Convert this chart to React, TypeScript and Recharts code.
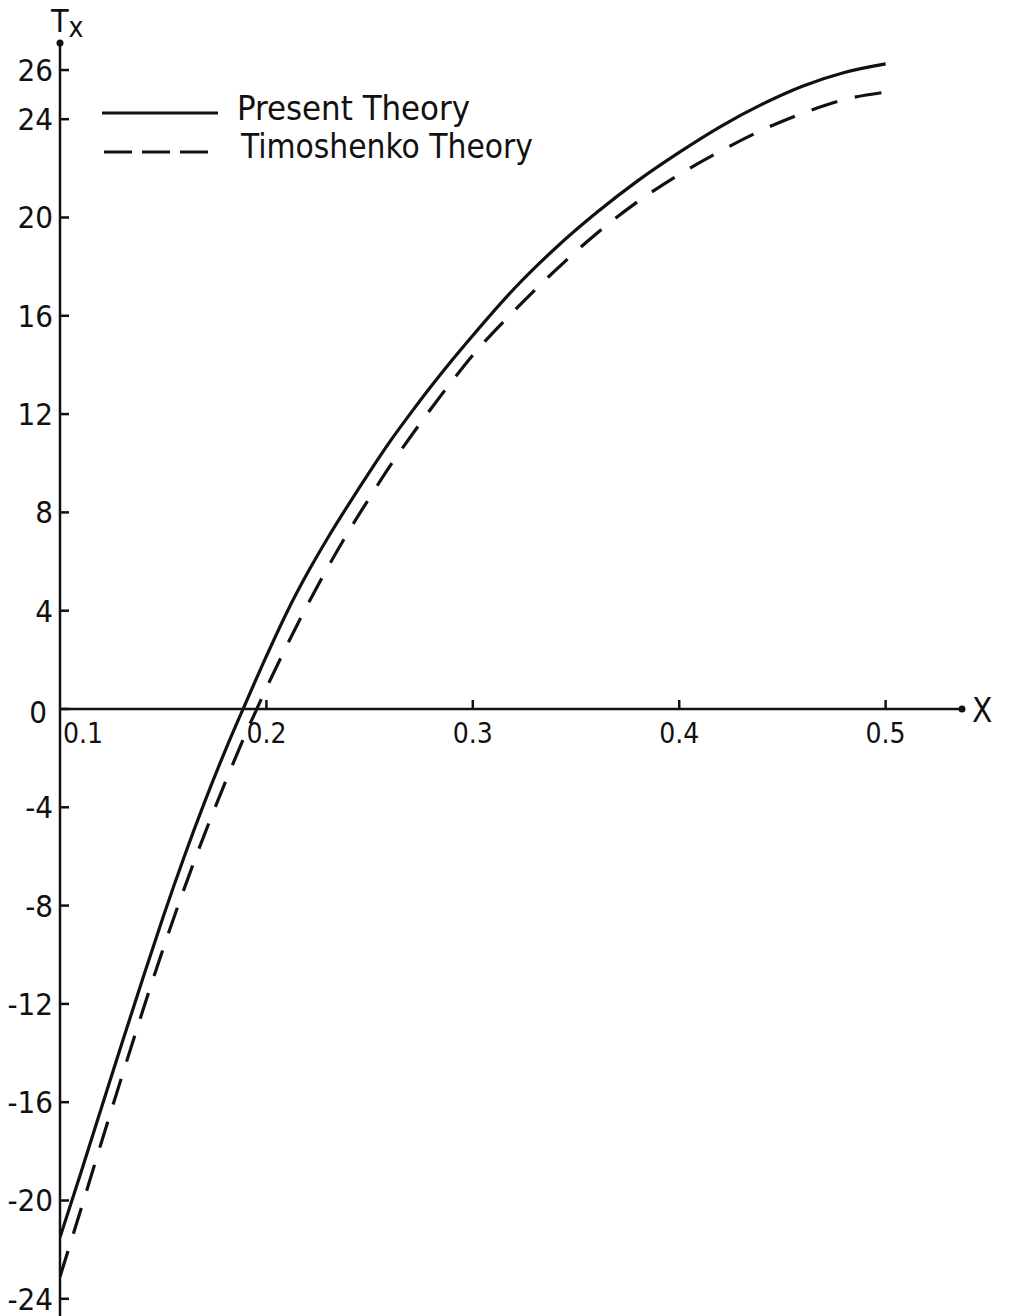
import { LineChart, Line, XAxis, YAxis, ReferenceLine, ReferenceDot, Legend } from 'recharts'

// x positions
const xValues = [
  0.1, 0.11, 0.12, 0.13, 0.14, 0.15, 0.16, 0.17, 0.18, 0.19, 0.2, 0.21, 0.22, 0.23, 0.24, 0.25, 0.26,
  0.27, 0.28, 0.29, 0.3, 0.32, 0.34, 0.36, 0.38, 0.4, 0.42, 0.44, 0.46, 0.48, 0.5,
]
const presentTheory = [
  -21.5, -18.9, -16.25, -13.6, -11.0, -8.45, -6.05, -3.8, -1.7, 0.25, 2.15, 3.95, 5.55, 7.0, 8.35, 9.65,
  10.9, 12.05, 13.15, 14.2, 15.2, 17.1, 18.75, 20.2, 21.5, 22.65, 23.7, 24.6, 25.35, 25.9, 26.25,
]
const timoshenkoTheory = [
  -23.1, -20.4, -17.65, -14.95, -12.3, -9.75, -7.35, -5.1, -3.0, -1.0, 0.85, 2.6, 4.25, 5.8, 7.25, 8.6,
  9.9, 11.1, 12.25, 13.35, 14.4, 16.2, 17.85, 19.35, 20.65, 21.75, 22.7, 23.55, 24.25, 24.8, 25.1,
]
const yTicks = [26, 24, 20, 16, 12, 8, 4, 0, -4, -8, -12, -16, -20, -24]
const xTicks = [0.1, 0.2, 0.3, 0.4, 0.5]

const rows = xValues.map((x, i) => ({
  x,
  present: presentTheory[i],
  timoshenko: timoshenkoTheory[i],
}))

const FONT = '"DejaVu Sans Condensed", "DejaVu Sans", sans-serif'
const INK = '#111'

function YTick(props: any) {
  const { x, y, payload } = props
  return (
    <g>
      <line x1={x} y1={y} x2={x + 9} y2={y} stroke={INK} strokeWidth={2.5} />
      <text
        x={payload.value === 0 ? x - 13 : x - 7}
        y={y + (payload.value === 0 ? 14 : 11)}
        textAnchor="end"
        fontSize={31}
        fontFamily={FONT}
        fontStretch="condensed"
        fill={INK}
      >
        {payload.value}
      </text>
    </g>
  )
}

function xTickShape(value: number) {
  return (p: any) => {
    const first = value === xTicks[0]
    return (
      <g>
        {!first && (
          <line x1={p.cx} y1={p.cy} x2={p.cx} y2={p.cy - 9} stroke={INK} strokeWidth={2.5} />
        )}
        <text
          x={first ? p.cx + 3 : p.cx}
          y={p.cy + 34}
          textAnchor={first ? 'start' : 'middle'}
          fontSize={28}
          fontFamily={FONT}
          fontStretch="condensed"
          fill={INK}
        >
          {value.toFixed(1)}
        </text>
      </g>
    )
  }
}

function arrowShape(kind: 'x' | 'y') {
  return (p: any) => (
    <g>
      <circle cx={p.cx} cy={p.cy} r={3.5} fill={INK} />
      {kind === 'y' ? (
        <text x={p.cx - 9} y={p.cy - 11} fontSize={32} fontFamily={FONT} fontStretch="condensed" fill={INK}>
          T
          <tspan fontSize={28} dy={5}>
            x
          </tspan>
        </text>
      ) : (
        <text x={p.cx + 10} y={p.cy + 13} fontSize={33} fontFamily={FONT} fontStretch="condensed" fill={INK}>
          X
        </text>
      )}
    </g>
  )
}

function LegendBox() {
  return (
    <svg width={470} height={90}>
      <line x1={7} y1={33} x2={123} y2={33} stroke={INK} strokeWidth={3} />
      <text x={142} y={40} fontSize={34} fontFamily={FONT} fontStretch="condensed" fill={INK} textLength={233} lengthAdjust="spacingAndGlyphs">
        Present Theory
      </text>
      <line x1={9} y1={72} x2={113} y2={72} stroke={INK} strokeWidth={3} strokeDasharray="28 10" />
      <text x={146} y={78} fontSize={34} fontFamily={FONT} fontStretch="condensed" fill={INK} textLength={292} lengthAdjust="spacingAndGlyphs">
        Timoshenko Theory
      </text>
    </svg>
  )
}

export default function App() {
  return (
    <div style={{ position: 'absolute', left: 0, top: 0, background: '#fff' }}>
      <LineChart width={1017} height={1316} data={rows} margin={{ top: 43, right: 55, bottom: 0, left: 0 }}>
        <XAxis dataKey="x" type="number" domain={[0.1, 0.537]} allowDataOverflow hide />
        <YAxis
          type="number"
          domain={[-24.7, 27.1]}
          allowDataOverflow
          ticks={yTicks}
          interval={0}
          width={60}
          tickSize={0}
          tickMargin={0}
          tickLine={false}
          axisLine={{ stroke: INK, strokeWidth: 2.5 }}
          tick={<YTick />}
        />
        <ReferenceLine y={0} stroke={INK} strokeWidth={2.5} />
        {xTicks.map((t) => (
          <ReferenceDot key={t} x={t} y={0} r={0} ifOverflow="visible" shape={xTickShape(t)} />
        ))}
        <ReferenceDot x={0.537} y={0} r={3.5} ifOverflow="visible" shape={arrowShape('x')} />
        <ReferenceDot x={0.1} y={27.1} r={3.5} ifOverflow="visible" shape={arrowShape('y')} />
        <Legend
          layout="horizontal"
          verticalAlign="middle"
          align="center"
          wrapperStyle={{ top: 80, left: 95, width: 470 }}
          content={() => <LegendBox />}
        />
        <Line
          dataKey="present"
          name="Present Theory"
          type="monotone"
          stroke={INK}
          strokeWidth={3.2}
          dot={false}
          isAnimationActive={false}
        />
        <Line
          dataKey="timoshenko"
          name="Timoshenko Theory"
          type="monotone"
          stroke={INK}
          strokeWidth={3.2}
          strokeDasharray="27 18"
          dot={false}
          isAnimationActive={false}
        />
      </LineChart>
    </div>
  )
}
